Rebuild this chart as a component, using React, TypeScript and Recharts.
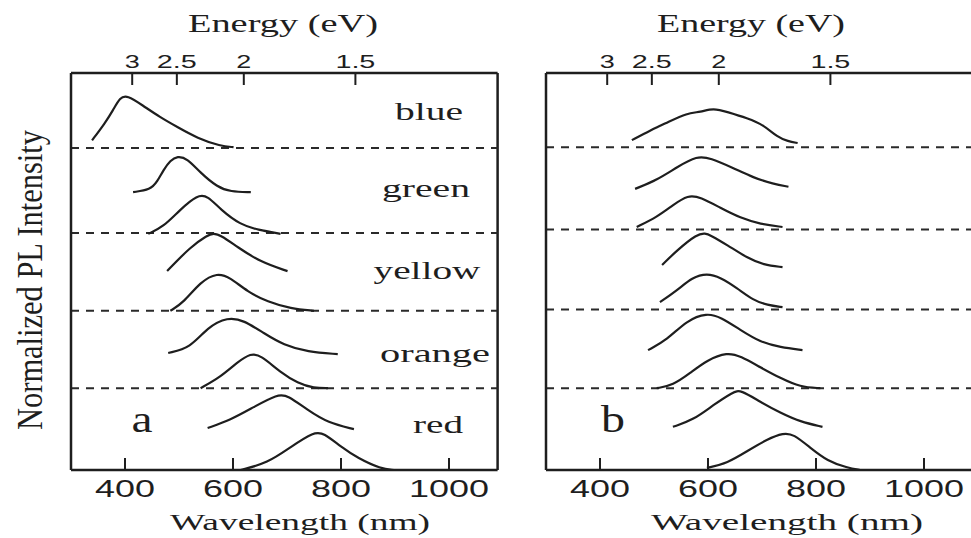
import React from 'react';
import { LineChart, Line, XAxis, YAxis, ReferenceLine } from 'recharts';

// Panel a spectra, top to bottom: wavelength (nm) and normalized PL intensity
const A_BLUE_NM = [339, 363, 378, 391, 404, 432, 465, 497, 534, 577, 601];
const A_BLUE_I = [0.19, 0.67, 1.03, 1.39, 1.44, 1.17, 0.83, 0.56, 0.25, 0.03, 0];
const A_GREEN1_NM = [415, 447, 460, 471, 484, 497, 515, 540, 571, 595, 633];
const A_GREEN1_I = [0, 0.06, 0.3, 0.61, 0.88, 1.0, 0.94, 0.53, 0.14, 0.01, 0];
const A_GREEN2_NM = [443, 471, 502, 534, 553, 577, 614, 646, 688];
const A_GREEN2_I = [0, 0.19, 0.67, 1.08, 1.06, 0.67, 0.25, 0.11, 0];
const A_YELLOW1_NM = [478, 521, 553, 564, 577, 608, 651, 701];
const A_YELLOW1_I = [0, 0.67, 1.0, 1.05, 1.0, 0.67, 0.25, 0];
const A_YELLOW2_NM = [484, 508, 540, 571, 595, 627, 664, 707, 750];
const A_YELLOW2_I = [0, 0.22, 0.81, 1.06, 0.92, 0.53, 0.25, 0.06, 0];
const A_ORANGE1_NM = [480, 521, 553, 590, 620, 657, 694, 738, 794];
const A_ORANGE1_I = [0.03, 0.17, 0.75, 1.03, 0.94, 0.58, 0.25, 0.06, 0];
const A_ORANGE2_NM = [540, 577, 608, 633, 651, 688, 720, 750, 776];
const A_ORANGE2_I = [0, 0.31, 0.72, 0.97, 0.92, 0.44, 0.14, 0, 0];
const A_RED1_NM = [553, 595, 638, 683, 701, 738, 776, 824];
const A_RED1_I = [0.03, 0.25, 0.61, 0.97, 0.94, 0.53, 0.17, 0];
const A_RED2_NM = [614, 664, 707, 750, 768, 800, 831, 874, 898];
const A_RED2_I = [0, 0.19, 0.64, 1.06, 1.03, 0.64, 0.33, 0.03, 0];
const A_OFFSETS = [8.05, 6.93, 5.89, 4.96, 3.97, 2.89, 2.04, 1.02, 0];
const A_DIVIDERS = [8.03, 5.91, 3.97, 2.04];

// Panel b spectra, top to bottom
const B_1_NM = [459, 494, 526, 561, 586, 610, 636, 673, 703, 729, 748, 766];
const B_1_I = [0.14, 0.42, 0.64, 0.89, 0.92, 1.03, 0.92, 0.75, 0.56, 0.22, 0.11, 0.06];
const B_2_NM = [465, 506, 543, 580, 604, 647, 684, 721, 749];
const B_2_I = [0, 0.25, 0.61, 0.92, 0.86, 0.58, 0.31, 0.14, 0.06];
const B_3_NM = [468, 506, 535, 563, 586, 623, 660, 697, 738];
const B_3_I = [0, 0.28, 0.61, 0.89, 0.83, 0.53, 0.25, 0.08, 0];
const B_4_NM = [515, 543, 580, 595, 604, 636, 673, 703, 738];
const B_4_I = [0.06, 0.47, 0.92, 0.94, 0.89, 0.61, 0.25, 0.06, 0];
const B_5_NM = [511, 543, 571, 598, 623, 654, 684, 710, 738];
const B_5_I = [0.14, 0.47, 0.83, 0.94, 0.83, 0.53, 0.19, 0.06, 0];
const B_6_NM = [489, 524, 561, 598, 623, 660, 697, 734, 775];
const B_6_I = [0, 0.28, 0.83, 1.03, 0.92, 0.56, 0.22, 0.08, 0];
const B_7_NM = [505, 535, 567, 598, 636, 660, 697, 734, 771, 808];
const B_7_I = [0, 0.08, 0.42, 0.78, 1.0, 0.89, 0.58, 0.28, 0.03, 0];
const B_8_NM = [535, 573, 610, 647, 660, 697, 734, 771, 812];
const B_8_I = [0.03, 0.22, 0.64, 1.0, 1.06, 0.72, 0.42, 0.17, 0.03];
const B_9_NM = [598, 636, 673, 710, 740, 758, 790, 821, 858, 882];
const B_9_I = [0.06, 0.19, 0.53, 0.86, 1.03, 1.0, 0.61, 0.25, 0.06, 0];
const B_OFFSETS = [8.1, 7.01, 6.06, 5.06, 4.06, 2.99, 2.04, 1.05, 0];
const B_DIVIDERS = [8.05, 6.0, 4.0, 2.04];

const BAND_LABELS = ['blue', 'green', 'yellow', 'orange', 'red'];
const WAVELENGTH_TICKS = [400, 600, 800, 1000];
const ENERGY_TICKS = [3, 2.5, 2, 1.5];

const X_DOMAIN: [number, number] = [300, 1090];
const Y_DOMAIN: [number, number] = [0, 9.9];
const PEAK_HEIGHT = 0.898;
const INK = '#1e1e1e';
const SERIF = '"Liberation Serif", "DejaVu Serif", serif';
const SANS = '"Liberation Sans", Arial, sans-serif';

const stack = (nms: number[], ints: number[], offset: number) =>
    nms.map((nm, k) => ({ nm, y: offset + ints[k] * PEAK_HEIGHT }));

const curvesA = [
    [A_BLUE_NM, A_BLUE_I], [A_GREEN1_NM, A_GREEN1_I], [A_GREEN2_NM, A_GREEN2_I],
    [A_YELLOW1_NM, A_YELLOW1_I], [A_YELLOW2_NM, A_YELLOW2_I], [A_ORANGE1_NM, A_ORANGE1_I],
    [A_ORANGE2_NM, A_ORANGE2_I], [A_RED1_NM, A_RED1_I], [A_RED2_NM, A_RED2_I],
].map(([nm, i], k) => stack(nm, i, A_OFFSETS[k]));

const curvesB = [
    [B_1_NM, B_1_I], [B_2_NM, B_2_I], [B_3_NM, B_3_I], [B_4_NM, B_4_I], [B_5_NM, B_5_I],
    [B_6_NM, B_6_I], [B_7_NM, B_7_I], [B_8_NM, B_8_I], [B_9_NM, B_9_I],
].map(([nm, i], k) => stack(nm, i, B_OFFSETS[k]));

// ticks sit inside the frame, labels stretched a bit wide like the printed figure
const BottomTick: React.FC<any> = ({ x, y, payload }) => {
    const s = String(payload.value);
    return (
        <g>
            <line x1={x} y1={y} x2={x} y2={y - 12} stroke={INK} strokeWidth={2} />
            <text x={x} y={y + 27} textAnchor="middle" fontFamily={SANS} fontSize={24} fill={INK}
                textLength={s.length * 20} lengthAdjust="spacingAndGlyphs">{s}</text>
        </g>
    );
};

const TopTick: React.FC<any> = ({ x, y, payload }) => {
    const e = ENERGY_TICKS.find((v) => Math.abs(1240 / v - payload.value) < 0.5);
    const s = String(e);
    const len = s.replace('.', '').length * 15 + (s.includes('.') ? 10 : 0);
    return (
        <g>
            <line x1={x} y1={y} x2={x} y2={y + 12} stroke={INK} strokeWidth={2} />
            <text x={x} y={y - 5} textAnchor="middle" fontFamily={SANS} fontSize={18} fill={INK}
                textLength={len} lengthAdjust="spacingAndGlyphs">{s}</text>
        </g>
    );
};

interface PanelProps {
    curves: { nm: number; y: number }[][];
    dividers: number[];
    width: number;
    left: number;
}

const Panel: React.FC<PanelProps> = ({ curves, dividers, width, left }) => {
    const plotWidth = (X_DOMAIN[1] - X_DOMAIN[0]) * 0.54;
    // axes take 1px each, the rest of the frame offset is margin
    return (
        <LineChart width={width} height={538}
            margin={{ top: 72, right: width - left - plotWidth, bottom: 67, left: left - 1 }}>
            <XAxis xAxisId="top" orientation="top" type="number" dataKey="nm" domain={X_DOMAIN}
                allowDataOverflow ticks={ENERGY_TICKS.map((e) => 1240 / e)} interval={0}
                height={1} tickSize={0} tickMargin={0} tickLine={false} tick={<TopTick />}
                axisLine={{ stroke: INK, strokeWidth: 2.5 }} />
            <XAxis type="number" dataKey="nm" domain={X_DOMAIN} allowDataOverflow
                ticks={WAVELENGTH_TICKS} interval={0} height={1} tickSize={0} tickMargin={0}
                tickLine={false} tick={<BottomTick />} axisLine={{ stroke: INK, strokeWidth: 2.5 }} />
            <YAxis type="number" domain={Y_DOMAIN} allowDataOverflow width={1} tick={false}
                tickLine={false} axisLine={{ stroke: INK, strokeWidth: 2.5 }} />
            <ReferenceLine x={X_DOMAIN[1]} stroke={INK} strokeWidth={2.5} />
            {dividers.map((d) => (
                <ReferenceLine key={d} y={d} stroke="#2a2a2a" strokeWidth={2} strokeDasharray="8 7" />
            ))}
            {curves.map((c, k) => (
                <Line key={k} data={c} dataKey="y" type="basis" dot={false} activeDot={false}
                    stroke={INK} strokeWidth={2.2} isAnimationActive={false} />
            ))}
        </LineChart>
    );
};

// band names down the right of panel a
const bandText = [
    { x: 429, y: 120, len: 68 },
    { x: 426, y: 197, len: 88 },
    { x: 427, y: 279, len: 107 },
    { x: 435, y: 362, len: 110 },
    { x: 438, y: 433, len: 50 },
];

const Labels: React.FC = () => (
    <svg width={971} height={538} style={{ position: 'absolute', left: 0, top: 0, pointerEvents: 'none' }}>
        <g fill={INK} fontFamily={SERIF}>
            <text x={283} y={32} fontSize={25} textAnchor="middle" textLength={190} lengthAdjust="spacingAndGlyphs">Energy (eV)</text>
            <text x={751} y={32} fontSize={25} textAnchor="middle" textLength={188} lengthAdjust="spacingAndGlyphs">Energy (eV)</text>
            <text x={300} y={530} fontSize={24} textAnchor="middle" textLength={260} lengthAdjust="spacingAndGlyphs">Wavelength (nm)</text>
            <text x={787} y={530} fontSize={24} textAnchor="middle" textLength={272} lengthAdjust="spacingAndGlyphs">Wavelength (nm)</text>
            <text transform="translate(42,280) scale(1.45,1) rotate(-90)" fontSize={24} textAnchor="middle"
                textLength={300} lengthAdjust="spacingAndGlyphs">Normalized PL Intensity</text>
            <text x={142} y={432} fontSize={38} textAnchor="middle" textLength={21} lengthAdjust="spacingAndGlyphs">a</text>
            <text x={613} y={432} fontSize={38} textAnchor="middle" textLength={24} lengthAdjust="spacingAndGlyphs">b</text>
            {BAND_LABELS.map((name, k) => (
                <text key={name} x={bandText[k].x} y={bandText[k].y} fontSize={25} textAnchor="middle"
                    textLength={bandText[k].len} lengthAdjust="spacingAndGlyphs">{name}</text>
            ))}
        </g>
    </svg>
);

export default function App() {
    return (
        <div style={{ position: 'fixed', left: 0, top: 0, width: 971, height: 538, overflow: 'hidden', background: '#fff' }}>
            <div style={{ position: 'absolute', left: 0, top: 0 }}>
                <Panel curves={curvesA} dividers={A_DIVIDERS} width={520} left={71} />
            </div>
            <div style={{ position: 'absolute', left: 520, top: 0 }}>
                <Panel curves={curvesB} dividers={B_DIVIDERS} width={500} left={26} />
            </div>
            <Labels />
        </div>
    );
}
